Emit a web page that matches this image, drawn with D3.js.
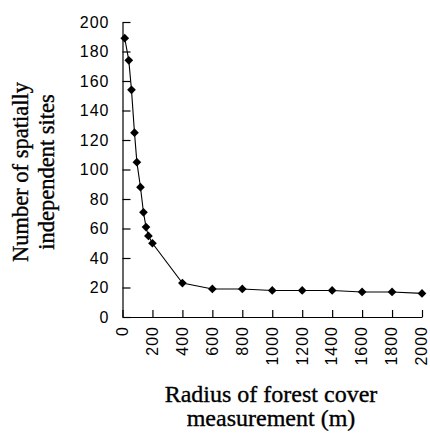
<!DOCTYPE html>
<html>
<head>
<meta charset="utf-8">
<script src="https://cdn.jsdelivr.net/npm/d3@7"></script>
<style>
  body { margin: 0; background: #fff; }
  .tick text { font-family: "Liberation Sans", Arial, sans-serif; font-size: 16px; letter-spacing: 1px; fill: #000; }
  .axistext { font-family: "Liberation Serif", "Times New Roman", serif; fill: #000; stroke: #000; stroke-width: 0.35px; }
</style>
</head>
<body>
<svg id="chart1"></svg>
<script>
// radius (m) and number of sites
const radius = [15, 42, 60, 80, 96, 120, 140, 157, 173, 200, 400, 600, 800, 1000, 1200, 1400, 1600, 1800, 2000];
const sites = [189, 174, 154, 125, 105, 88, 71, 61, 55, 50, 23, 19, 19, 18, 18, 18, 17, 17, 16];
const xTicks = [0, 200, 400, 600, 800, 1000, 1200, 1400, 1600, 1800, 2000];
const yTicks = [0, 20, 40, 60, 80, 100, 120, 140, 160, 180, 200];

const points = radius.map((r, i) => ({x: r, y: sites[i]}));

const margin = {top: 22, right: 8, bottom: 119, left: 122.5};
const width = 430 - margin.left - margin.right;
const height = 436 - margin.top - margin.bottom;

const xScale = d3.scaleLinear()
    .domain([0, 2000])
    .range([0, width]);

const yScale = d3.scaleLinear()
    .domain([0, 200])
    .range([height, 0]);

const svg = d3.select("#chart1")
    .attr("width", 430)
    .attr("height", 436)
    .append("g")
    .attr("transform", "translate(" + margin.left + "," + margin.top + ")");

// x-axis, ticks pointing in
const gx = svg.append("g")
    .attr("class", "xaxis")
    .attr("transform", "translate(0," + height + ")")
    .call(d3.axisBottom(xScale).tickValues(xTicks).tickSize(-7).tickSizeOuter(0).tickFormat(d3.format("d")));

gx.selectAll("text")
    .attr("transform", "rotate(-90)")
    .attr("x", -9)
    .attr("y", 0)
    .attr("dy", "0.3em")
    .style("text-anchor", "end");

// y-axis
svg.append("g")
    .attr("class", "yaxis")
    .call(d3.axisLeft(yScale).tickValues(yTicks).tickSize(-8).tickSizeOuter(0).tickPadding(13));

svg.selectAll(".domain, .tick line")
    .attr("stroke", "#000")
    .attr("stroke-width", 1.2);

const line = d3.line()
    .x(d => xScale(d.x))
    .y(d => yScale(d.y));

svg.append("path")
    .datum(points)
    .attr("fill", "none")
    .attr("stroke", "#000")
    .attr("stroke-width", 1.1)
    .attr("d", line);

svg.selectAll(".dot")
    .data(points)
    .enter().append("path")
    .attr("class", "dot")
    .attr("d", d3.symbol().type(d3.symbolSquare).size(38))
    .attr("transform", d => "translate(" + xScale(d.x) + "," + yScale(d.y) + ") rotate(45)")
    .attr("fill", "#000");

// text label for the x axis
const xlab = svg.append("text")
    .attr("class", "axistext")
    .style("font-size", "24px")
    .style("text-anchor", "middle")
    .attr("transform", "translate(" + (271 - margin.left) + "," + (402 - margin.top) + ")");
xlab.append("tspan").attr("x", 0).attr("y", 0).text("Radius of forest cover");
xlab.append("tspan").attr("x", 0).attr("y", 24).text("measurement (m)");

// text label for the y axis
const ylab = svg.append("text")
    .attr("class", "axistext")
    .style("font-size", "22.5px")
    .style("text-anchor", "middle")
    .attr("transform", "translate(" + (28 - margin.left) + "," + (172 - margin.top) + ") rotate(-90)");
ylab.append("tspan").attr("x", 0).attr("y", 0).text("Number of spatially");
ylab.append("tspan").attr("x", 0).attr("y", 26).text("independent sites");
</script>
</body>
</html>
